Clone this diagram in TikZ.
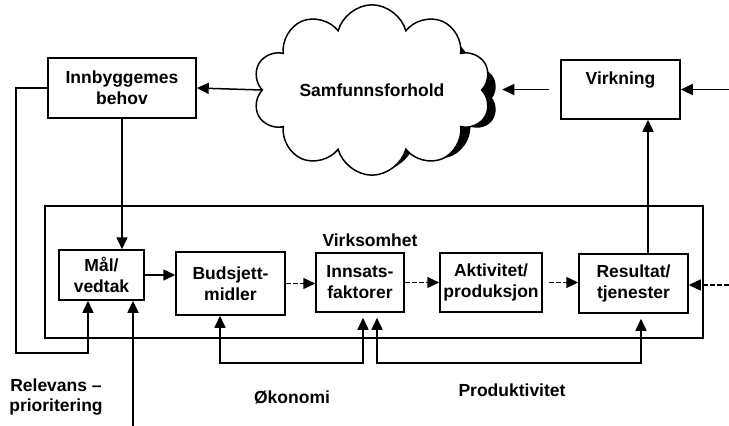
\documentclass[tikz,border=0pt]{standalone}
\usepackage{fontspec}
\setmainfont{Liberation Sans}
\usetikzlibrary{arrows.meta,shapes.symbols}
\tikzstyle{flowbox}=[rectangle,draw=black,line width=1.5pt,inner sep=0pt,
                     font=\bfseries\fontsize{17.5}{21}\selectfont,align=center]
\tikzstyle{flowtext}=[inner sep=0pt,
                      font=\bfseries\fontsize{17.5}{20}\selectfont,align=center]
\tikzstyle{skyshape}=[cloud,cloud puffs=10,aspect=1.6,line width=1.5pt,
                      minimum width=238pt,minimum height=146pt]
\tikzstyle{flowarrow}=[line width=1.5pt,-{Triangle[length=12pt,width=11pt]}]
\tikzstyle{dasharrow}=[flowarrow,dash pattern=on 5pt off 2pt]
\tikzstyle{looparrow}=[line width=1.5pt,
                       {Triangle[length=12pt,width=11pt]}-{Triangle[length=12pt,width=11pt]}]

\begin{document}
\begin{tikzpicture}[x=1pt,y=-1pt]
    \useasboundingbox (0,0) rectangle (729,426);
    % upper row
    \node (behov) at (122,88) [flowbox,minimum width=148pt,minimum height=60pt]{Innbyggemes\\behov};
    \node (skyshadow) at (379,98) [skyshape,fill=black]{};
    \node (sky) at (372,90) [skyshape,draw=black,fill=white,flowtext]{Samfunnsforhold};
    \node (virk) at (620.5,89.5) [flowbox,minimum width=119pt,minimum height=59pt]{};
    \node (virktxt) at ([yshift=-12pt]virk.north) [flowtext,anchor=north]{Virkning};
    % frame round the activity chain
    \node (frame) at (374,272) [flowbox,minimum width=658pt,minimum height=132pt]{};
    \node (virksomhet) at (370,240) [flowtext]{Virksomhet};
    \node (mal) at (101.5,275)   [flowbox,minimum width=85pt,minimum height=50pt]{Mål/\\vedtak};
    \node (bud) at (230.5,283.5) [flowbox,minimum width=109pt,minimum height=63pt]{Budsjett-\\midler};
    \node (inn) at (360,282.5)   [flowbox,minimum width=88pt,minimum height=59pt]{Innsats-\\faktorer};
    \node (akt) at (491,282.5)   [flowbox,minimum width=102pt,minimum height=59pt]{Aktivitet/\\produksjon};
    \node (res) at (633.5,283.5) [flowbox,minimum width=109pt,minimum height=59pt]{Resultat/\\tjenester};
    % labels below
    \node (relevans) at (56,397)     [flowtext]{Relevans --\\prioritering};
    \node (okonomi) at (292,397)     [flowtext]{Økonomi};
    \node (produktiv) at (512,390)   [flowtext]{Produktivitet};
    % free ends
    \coordinate (lv) at (16,353);
    \coordinate (bot) at (133,426);
    \coordinate (inV) at (729,89.5);
    \coordinate (inR) at (729,285);
    % connectors
    \draw[flowarrow] (sky.west) -- (behov.east);
    \draw[flowarrow] ([xshift=-11pt]virk.west) -- ++(-47,0);
    \draw[flowarrow] (inV) -- (virk.east);
    \draw[flowarrow] ([xshift=14.5pt]res.north) -- ([xshift=14.5pt]res.north |- virk.south);
    \draw[flowarrow] (behov.west) -| (lv) -| ([xshift=-13.5pt]mal.south);
    \draw[flowarrow] (behov.south) -- (behov.south |- mal.north);
    \draw[flowarrow] (bot) -- (bot |- mal.south);
    \draw[flowarrow] (mal.east) -- (mal.east -| bud.west);
    \draw[dasharrow] (bud.east) -- (bud.east -| inn.west);
    \draw[dasharrow] (inn.east) -- (akt.west);
    \draw[dasharrow] ([xshift=6pt]akt.east) -- (akt.east -| res.west);
    \draw[dasharrow] (inR) -- (inR -| res.east);
    \draw[looparrow] ([xshift=-10.5pt]bud.south) -- ++(0,47) -| ([xshift=3pt,yshift=-5pt]inn.south);
    \draw[looparrow] ([xshift=17pt,yshift=-5pt]inn.south) -- ++(0,45) -| ([xshift=7.5pt,yshift=-5pt]res.south);
\end{tikzpicture}
\end{document}
